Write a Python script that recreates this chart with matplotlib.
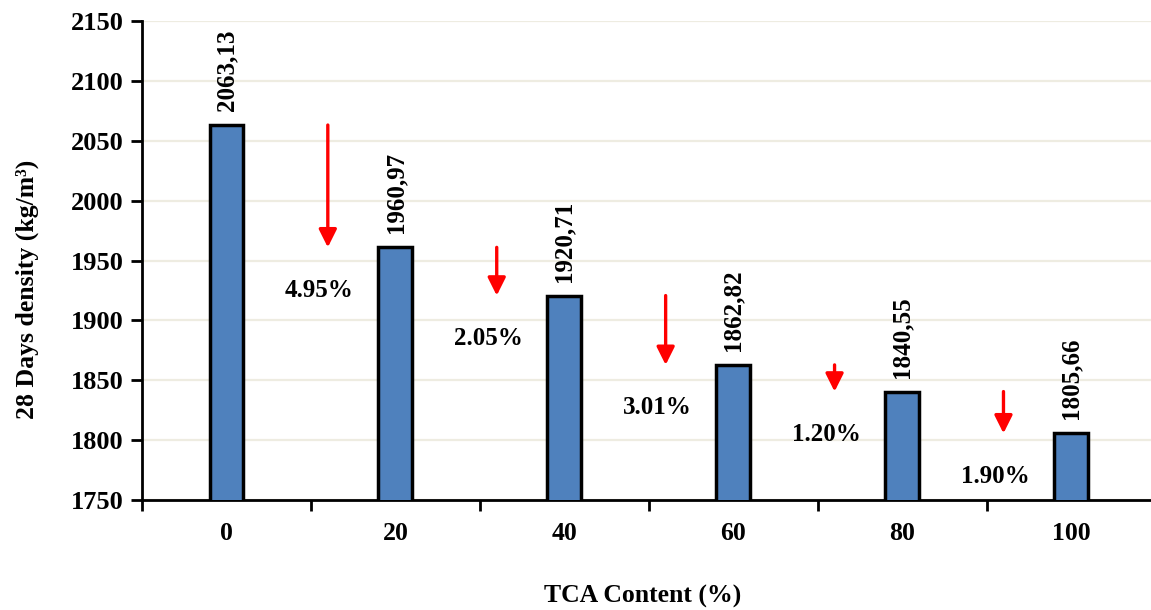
"""
28-day density vs TCA content: bars with value labels and red drop arrows.
"""
import numpy as np
import matplotlib
matplotlib.use("Agg")
import matplotlib.pyplot as plt

tcaContent = ["0", "20", "40", "60", "80", "100"]
density = [2063.13, 1960.97, 1920.71, 1862.82, 1840.55, 1805.66]
yTicks = [1750, 1800, 1850, 1900, 1950, 2000, 2050, 2100, 2150]

BAR_COLOR = "#4F81BD"
GRID_COLOR = "#EEECE1"

plt.rcParams["font.family"] = ["Liberation Serif", "DejaVu Serif"]
plt.rcParams["font.weight"] = "bold"


def Main():
    fig = plt.figure(figsize=(11.51, 6.10), dpi=100)
    ax = fig.add_axes([142 / 1151, 1 - 500 / 610, (1155.5 - 142) / 1151, 479 / 610])
    x = np.arange(len(tcaContent))

    ax.bar(x, density, width=0.2, bottom=0, color=BAR_COLOR, edgecolor="black",
           linewidth=2.5, zorder=3)
    ax.set_ylim(yTicks[0], yTicks[-1])
    ax.set_xlim(-0.5, len(tcaContent) - 0.5)

    # value labels above each bar, comma as decimal separator
    for i, v in enumerate(density):
        ax.annotate(f"{v:.2f}".replace(".", ","), xy=(i, v), xytext=(0, 10),
                    textcoords="offset points", rotation=90, ha="center", va="bottom",
                    fontsize=18, fontweight="bold", zorder=4)

    # drop arrows between consecutive bars with relative decrease
    for i in range(len(density) - 1):
        prev, nxt = density[i], density[i + 1]
        ax.annotate("", xy=(i + 0.6, nxt), xytext=(i + 0.6, prev),
                    arrowprops=dict(arrowstyle="-|>", color="red", lw=2.4,
                                    mutation_scale=27, shrinkA=0, shrinkB=0),
                    zorder=4)
        pct = (prev - nxt) / prev * 100
        ax.annotate(f"{pct:.2f}%", xy=(i + 0.55, nxt), xytext=(0, -31),
                    textcoords="offset points", ha="center", va="center",
                    fontsize=18, fontweight="bold", zorder=4)

    ax.set_yticks(yTicks)
    ax.set_yticklabels([str(t) for t in yTicks], fontsize=19, fontweight="bold")
    ax.yaxis.grid(True, color=GRID_COLOR, linewidth=1.6, zorder=0)
    ax.set_axisbelow(True)

    # category labels centred, tick marks on the boundaries
    ax.set_xticks(x)
    ax.set_xticklabels(tcaContent, fontsize=18.5, fontweight="bold")
    ax.tick_params(axis="x", which="major", length=0, pad=16)
    ax.set_xticks(np.arange(-0.5, len(tcaContent)), minor=True)
    ax.tick_params(axis="x", which="minor", length=8, width=2, direction="out")
    ax.tick_params(axis="y", length=8, width=2, direction="out", pad=5)

    for side in ("top", "right"):
        ax.spines[side].set_visible(False)
    for side in ("left", "bottom"):
        ax.spines[side].set_linewidth(2)

    ax.set_xlabel("TCA Content (%)", fontsize=18.5, fontweight="bold")
    ax.xaxis.set_label_coords(0.494, -0.178)
    ax.set_ylabel("28 Days density (kg/m³)", fontsize=18.5, fontweight="bold")
    ax.yaxis.set_label_coords(-0.102, 0.44)

    fig.savefig("out.png", dpi=100)
    plt.close(fig)


if __name__ == "__main__":
    Main()
